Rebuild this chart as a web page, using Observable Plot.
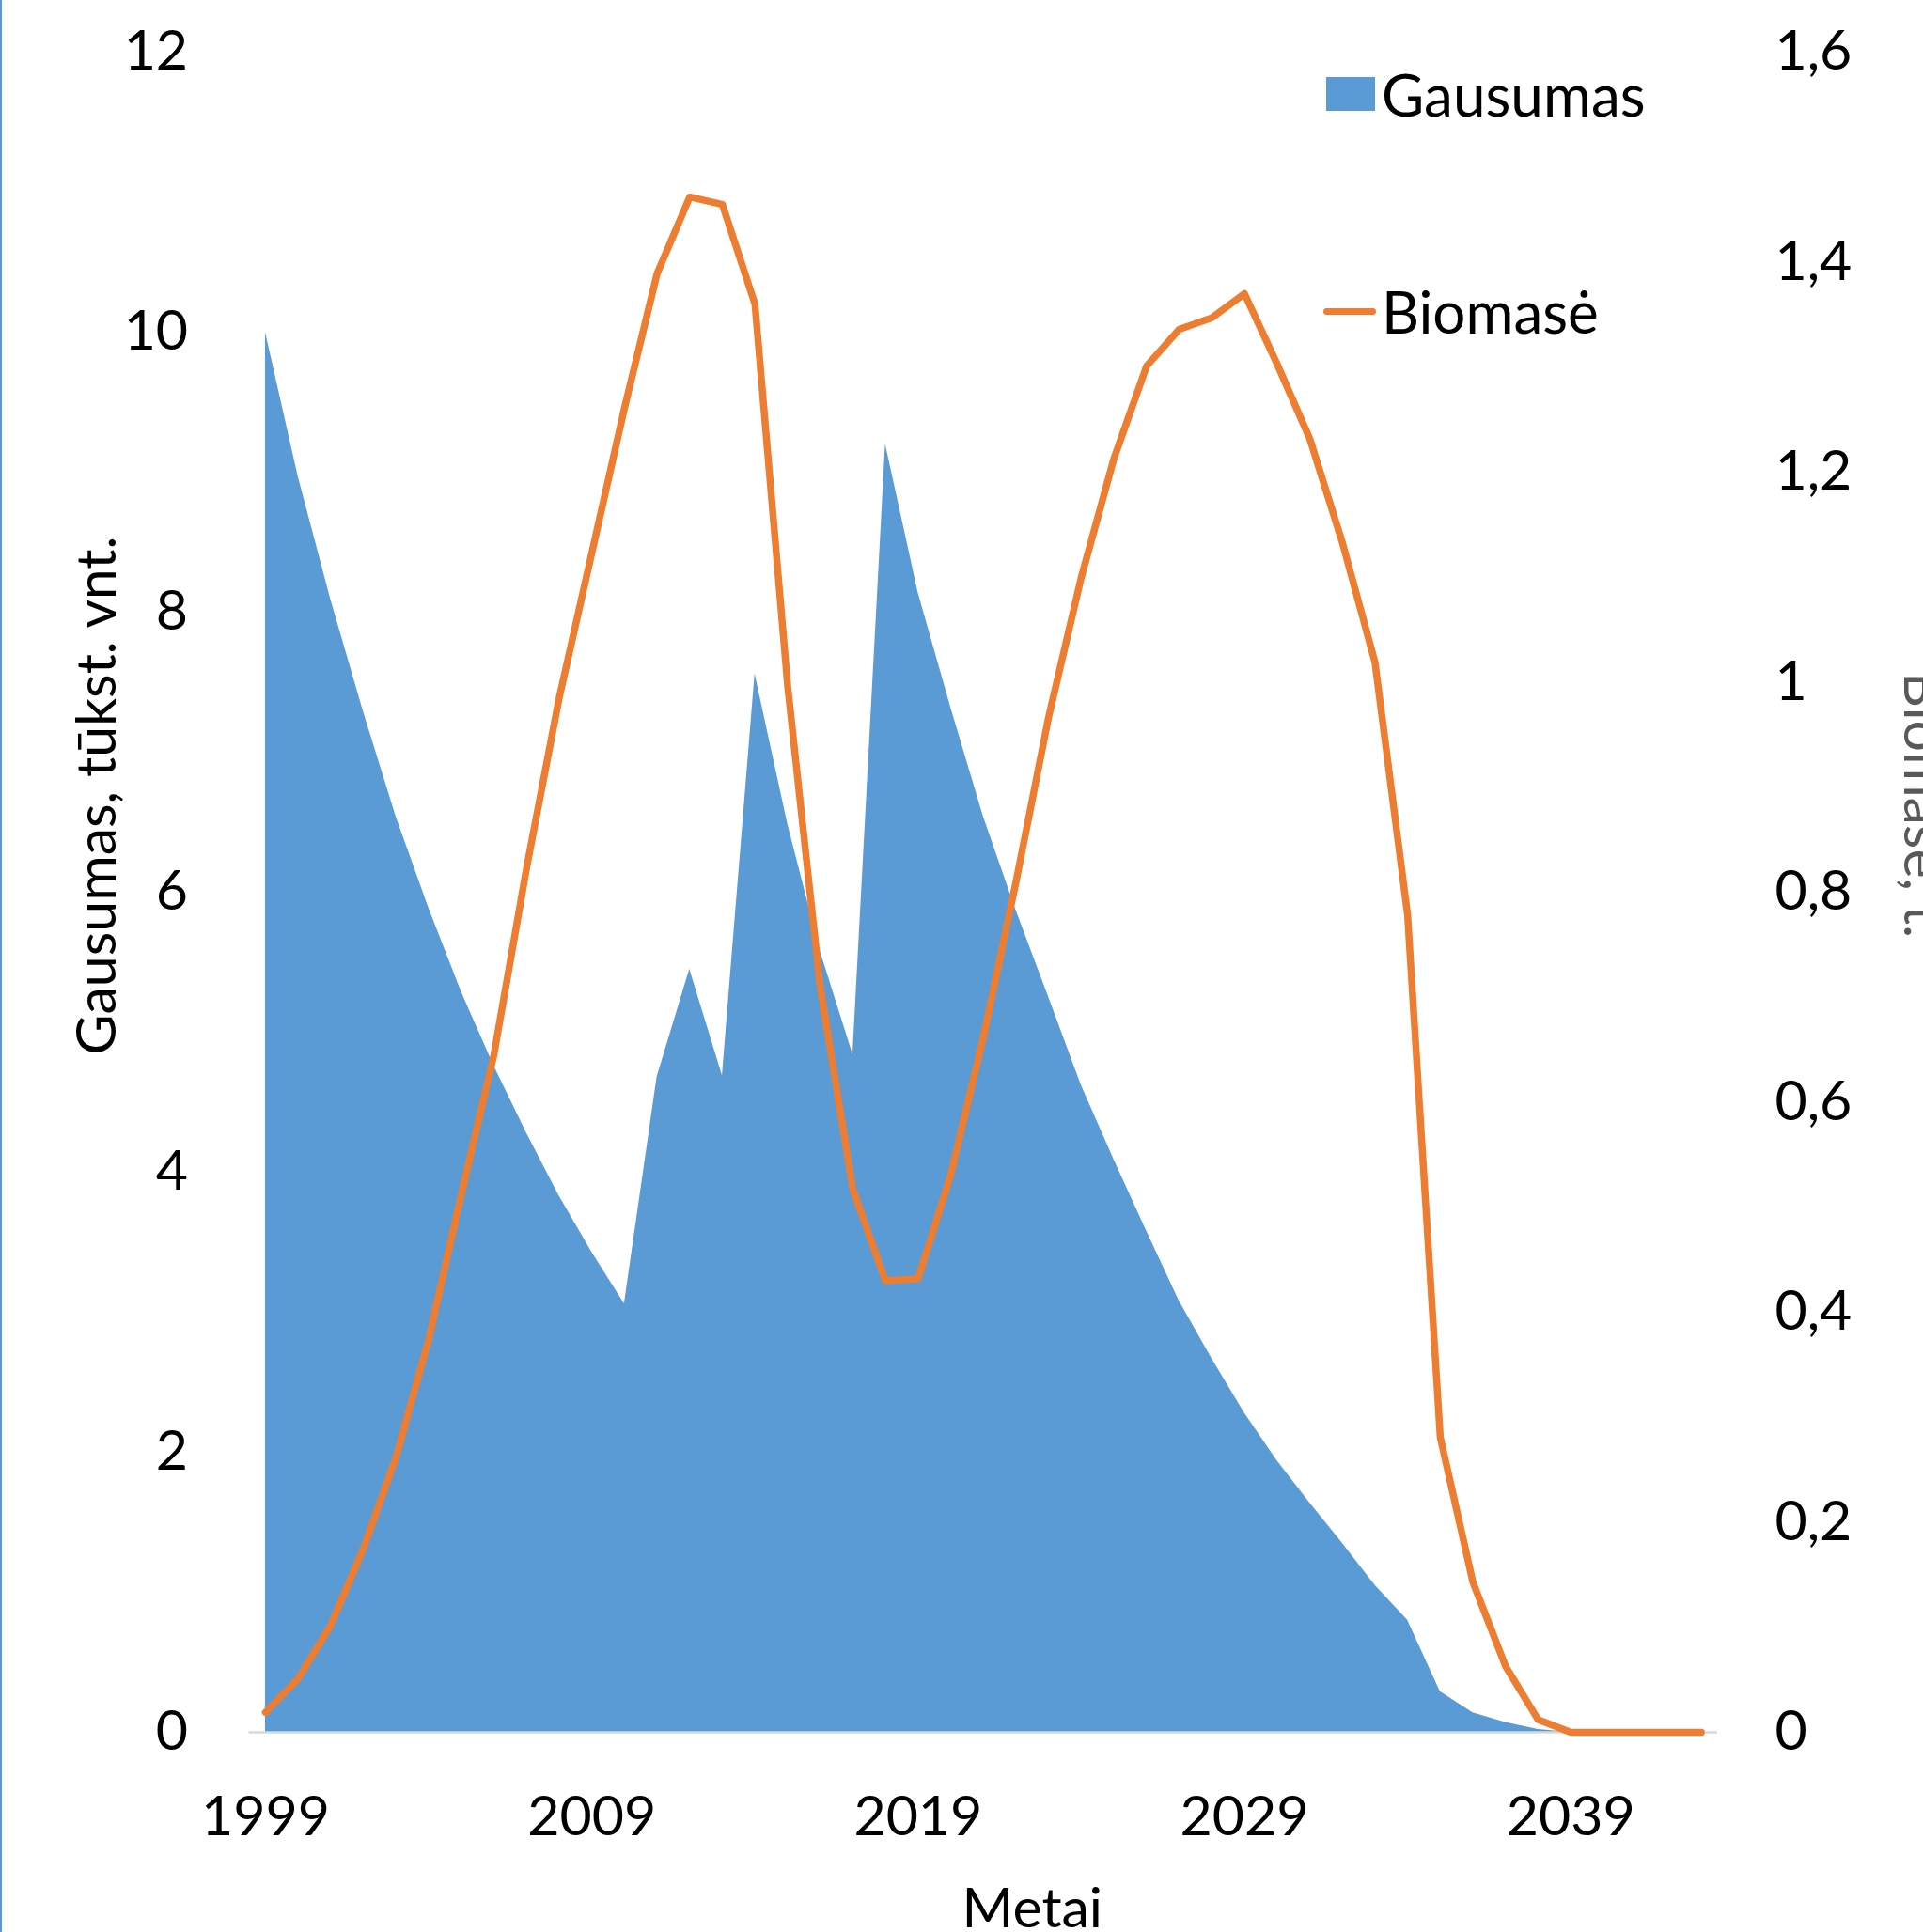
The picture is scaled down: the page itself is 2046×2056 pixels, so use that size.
<!DOCTYPE html>
<html>
<head>
<meta charset="utf-8">
<script src="https://cdn.jsdelivr.net/npm/d3@7"></script>
<script src="https://cdn.jsdelivr.net/npm/@observablehq/plot@0.6"></script>
<style>
  html, body { margin: 0; padding: 0; background: #fff; overflow: hidden; }
  #wrap { position: relative; width: 2046px; height: 2056px; }
  #edge { position: absolute; left: 0; top: 0; width: 2px; height: 2056px; background: #5B9BD5; }
  .leg { position: absolute; left: 1411px; font-family: Lato, sans-serif; font-size: 62px; line-height: 62px; color: #000; display: flex; align-items: center; white-space: nowrap; }
  .sw { display: inline-block; width: 52px; height: 36px; background: #5B9BD5; margin-right: 7px; }
  .ln { display: inline-block; width: 56px; height: 7px; border-radius: 3.5px; background: #ED7D31; margin-right: 6px; }
</style>
</head>
<body>
<div id="wrap"><div id="edge"></div></div>
<script>
// ---- data ----
const years = [1999, 2000, 2001, 2002, 2003, 2004, 2005, 2006, 2007, 2008,
  2009, 2010, 2011, 2012, 2013, 2014, 2015, 2016, 2017, 2018,
  2019, 2020, 2021, 2022, 2023, 2024, 2025, 2026, 2027, 2028,
  2029, 2030, 2031, 2032, 2033, 2034, 2035, 2036, 2037, 2038,
  2039, 2040, 2041, 2042, 2043];
const gausumas = [10.0, 8.97, 8.09, 7.29, 6.54, 5.89, 5.29, 4.76, 4.28, 3.83,
  3.43, 3.06, 4.68, 5.45, 4.69, 7.56, 6.49, 5.58, 4.84, 9.20,
  8.14, 7.32, 6.54, 5.87, 5.25, 4.62, 4.09, 3.58, 3.08, 2.67,
  2.28, 1.94, 1.64, 1.35, 1.05, 0.80, 0.29, 0.14, 0.07, 0.02,
  0, 0, 0, 0, 0];
const biomase = [0.019, 0.051, 0.102, 0.175, 0.262, 0.374, 0.512, 0.645, 0.823, 0.985,
  1.123, 1.261, 1.389, 1.462, 1.455, 1.36, 0.997, 0.71, 0.517, 0.430,
  0.432, 0.531, 0.662, 0.81, 0.967, 1.10, 1.213, 1.301, 1.336, 1.347,
  1.370, 1.303, 1.232, 1.133, 1.019, 0.778, 0.281, 0.143, 0.063, 0.012,
  0, 0, 0, 0, 0];
const leftTicks = [0, 2, 4, 6, 8, 10, 12];
const rightTicks = [0, 0.2, 0.4, 0.6, 0.8, 1, 1.2, 1.4, 1.6];
const xTicks = [1999, 2009, 2019, 2029, 2039];
const labels = {
  left: "Gausumas, tūkst. vnt.",
  right: "Biomasė, t.",
  x: "Metai",
  s1: "Gausumas",
  s2: "Biomasė"
};

// ---- build ----
const ratio = 12 / 1.6;
const data = years.map((year, i) => ({year, gausumas: gausumas[i], biomase: biomase[i]}));
const fmtRight = v => String(Math.round(v / ratio * 10) / 10).replace(".", ",");

const chart = Plot.plot({
  width: 2046,
  height: 2056,
  marginLeft: 264.6,
  marginRight: 219,
  marginTop: 55,
  marginBottom: 213,
  style: {fontFamily: "Lato, sans-serif", fontSize: "59px", color: "#000", background: "transparent", overflow: "visible"},
  x: {domain: [1998.5, 2043.5]},
  y: {domain: [0, 12]},
  marks: [
    Plot.areaY(data, {x: "year", y: "gausumas", fill: "#5B9BD5"}),
    Plot.ruleY([0], {stroke: "#D9D9D9", strokeWidth: 2.5}),
    Plot.lineY(data, {x: "year", y: d => d.biomase * ratio, stroke: "#ED7D31", strokeWidth: 7.5, strokeLinecap: "round", strokeLinejoin: "round"}),
    Plot.axisY(leftTicks, {anchor: "left", tickSize: 0, tickPadding: 65, tickFormat: d => String(d), label: null}),
    Plot.axisY(rightTicks.map(v => v * ratio), {anchor: "right", tickSize: 0, tickPadding: 61, tickFormat: fmtRight, label: null}),
    Plot.axisX(xTicks, {anchor: "bottom", tickSize: 0, tickPadding: 68, tickFormat: d => String(d), label: null}),
    Plot.text([labels.left], {frameAnchor: "left", textAnchor: "middle", lineAnchor: "middle", rotate: -90, dx: -161, dy: -103, fill: "#000"}),
    Plot.text([labels.right], {frameAnchor: "right", textAnchor: "middle", lineAnchor: "middle", rotate: 90, dx: 217, dy: -93, fill: "#595959"}),
    Plot.text([labels.x], {frameAnchor: "bottom", textAnchor: "middle", lineAnchor: "middle", dx: 52, dy: 189, fill: "#000"})
  ]
});
chart.style.position = "absolute";
chart.style.left = "0px";
chart.style.top = "0px";
const wrap = document.getElementById("wrap");
wrap.appendChild(chart);

// legend (overlay, top right inside the chart)
const l1 = document.createElement("div");
l1.className = "leg";
l1.style.top = "69px";
l1.innerHTML = `<span class="sw"></span><span>${labels.s1}</span>`;
wrap.appendChild(l1);
const l2 = document.createElement("div");
l2.className = "leg";
l2.style.top = "300px";
l2.style.left = "1408px";
l2.innerHTML = `<span class="ln"></span><span>${labels.s2}</span>`;
wrap.appendChild(l2);
</script>
</body>
</html>
